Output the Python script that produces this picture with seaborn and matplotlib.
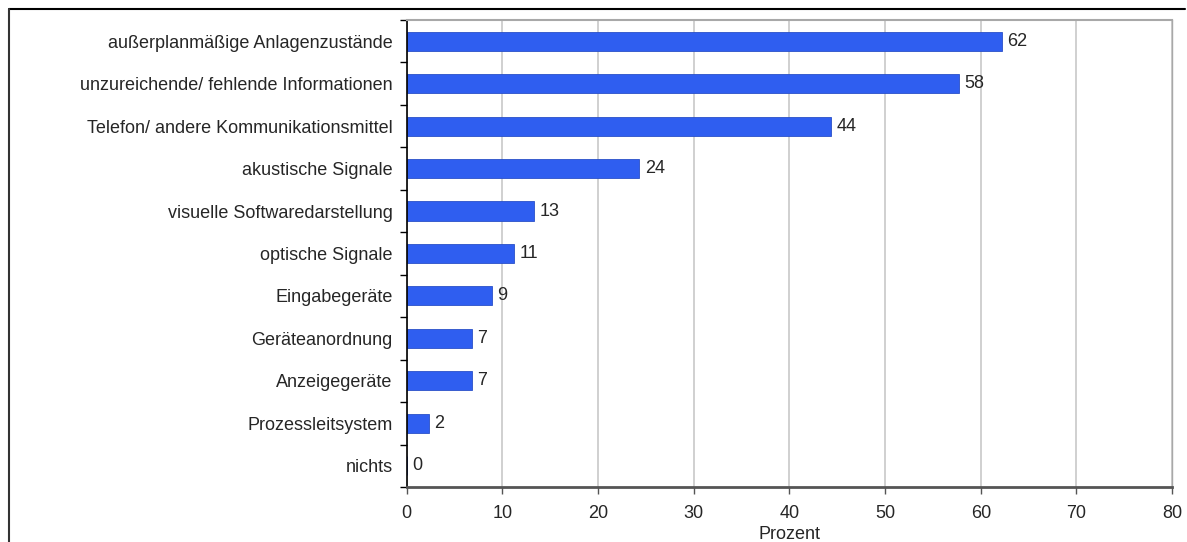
import numpy as np
import pandas as pd
import matplotlib
matplotlib.use("Agg")
import matplotlib.pyplot as plt
from matplotlib.lines import Line2D
import seaborn as sns

categories = [
    "außerplanmäßige Anlagenzustände",
    "unzureichende/ fehlende Informationen",
    "Telefon/ andere Kommunikationsmittel",
    "akustische Signale",
    "visuelle Softwaredarstellung",
    "optische Signale",
    "Eingabegeräte",
    "Geräteanordnung",
    "Anzeigegeräte",
    "Prozessleitsystem",
    "nichts",
]
prozent = [62.2, 57.7, 44.4, 24.3, 13.3, 11.2, 8.9, 6.8, 6.8, 2.3, 0.0]
x_ticks = [0, 10, 20, 30, 40, 50, 60, 70, 80]

df = pd.DataFrame({"kategorie": categories, "prozent": prozent})

sns.set_style("white")
plt.rcParams["font.family"] = ["Liberation Sans", "DejaVu Sans"]
fs = 13

fig = plt.figure(figsize=(11.87, 5.42), dpi=100)
ax = fig.add_axes([0.3425, 0.1015, 0.645, 0.8616])

sns.barplot(data=df, x="prozent", y="kategorie", orient="h", color="#2f5ef0",
            saturation=1, width=0.45, edgecolor="#2a50c8", linewidth=0.6, ax=ax)

ax.set_xlim(0, 80)
ax.set_ylim(10.5, -0.5)
ax.set_xticks(x_ticks)
ax.xaxis.grid(True, color="#c8c8c8", linewidth=1.2)
ax.set_axisbelow(True)

for c in ax.containers:
    ax.bar_label(c, fmt="%.0f", padding=4, fontsize=fs)

# category boundary ticks on the y axis
ax.set_yticks(np.arange(-0.5, 11, 1), minor=True)
ax.tick_params(axis="y", which="major", length=0, pad=10, labelsize=fs)
ax.tick_params(axis="y", which="minor", left=True, length=5, width=1, color="black")
ax.tick_params(axis="x", which="major", bottom=True, length=5, width=1,
               color="#555555", labelsize=fs, pad=8)

ax.set_ylabel("")
ax.set_xlabel("Prozent", fontsize=fs, labelpad=3)

ax.spines["left"].set_color("black")
ax.spines["left"].set_linewidth(1.2)
ax.spines["bottom"].set_color("#555555")
ax.spines["bottom"].set_linewidth(2)
ax.spines["top"].set_color("#a8a8a8")
ax.spines["top"].set_linewidth(1.5)
ax.spines["right"].set_color("#a8a8a8")
ax.spines["right"].set_linewidth(1)

# outer frame (top and left edges)
fig.add_artist(Line2D([9 / 1187, 1185 / 1187], [1 - 9 / 542, 1 - 9 / 542],
                      transform=fig.transFigure, color="black", linewidth=1.5))
fig.add_artist(Line2D([9 / 1187, 9 / 1187], [0, 1 - 9 / 542],
                      transform=fig.transFigure, color="#333333", linewidth=1.5))

fig.savefig("out.png", dpi=100)
